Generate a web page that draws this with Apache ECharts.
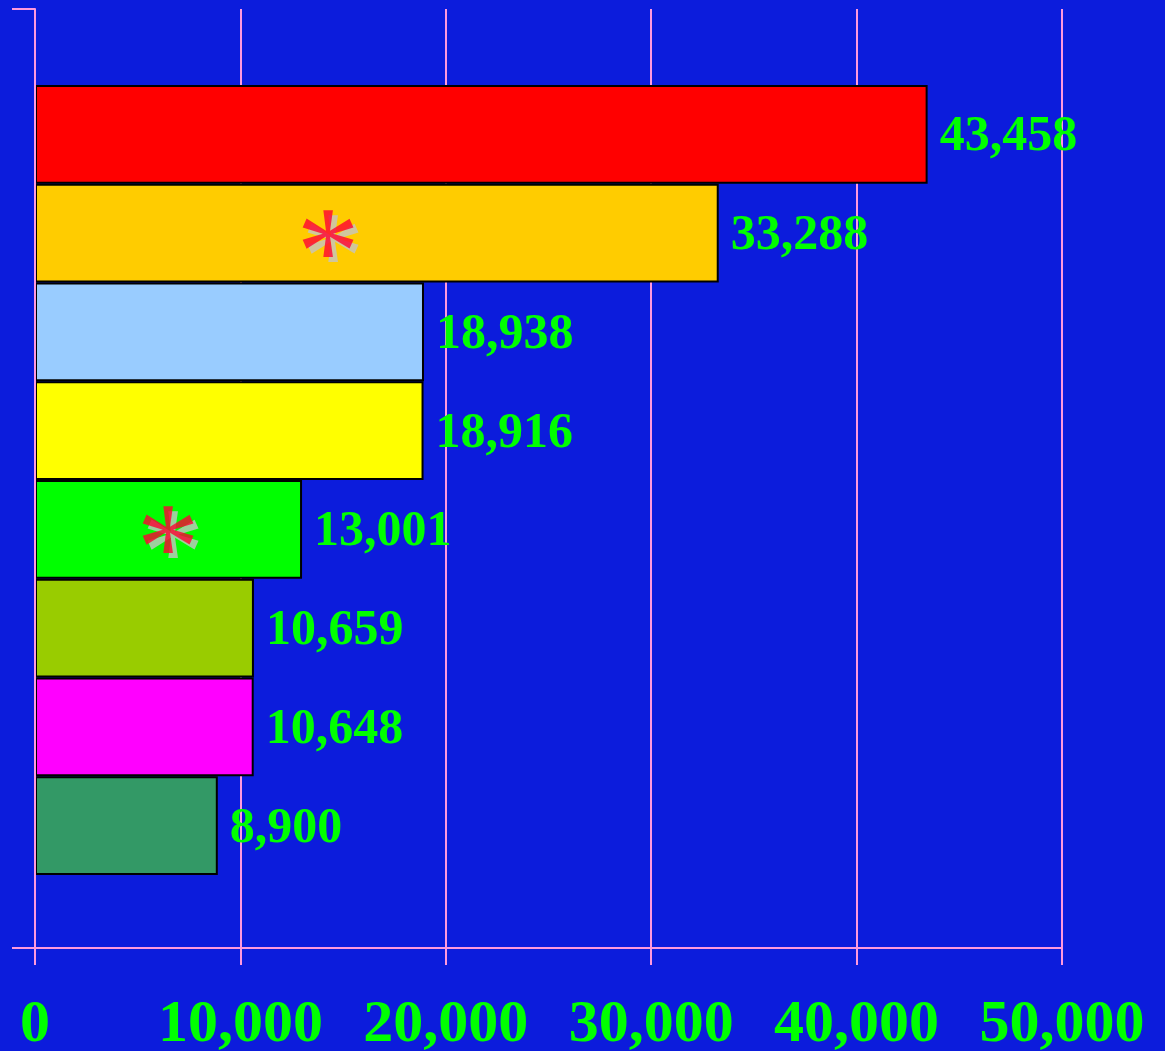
<!DOCTYPE html>
<html>
<head>
<meta charset="utf-8">
<style>
  html, body { margin: 0; padding: 0; background: #0c1cdc; }
  #chart { width: 1165px; height: 1051px; }
</style>
<script src="https://cdn.jsdelivr.net/npm/echarts@6/dist/echarts.min.js"></script>
</head>
<body>
<div id="chart"></div>
<script>
// bars, top to bottom
const categories = ['1', '2', '3', '4', '5', '6', '7', '8'];
const values = [43458, 33288, 18938, 18916, 13001, 10659, 10648, 8900];
const barColors = ['#ff0000', '#ffcc00', '#99ccff', '#ffff00', '#00ff00', '#99cc00', '#ff00ff', '#339966'];

// red asterisks drawn inside two of the bars
const starCategories = ['2', '5'];
const starValues = [14265, 6475];

const xTicks = [0, 10000, 20000, 30000, 40000, 50000];

const PINK = '#ff99dd';
const GREEN = '#00ff00';
const SERIF = '"Liberation Serif", "Times New Roman", serif';

const fmt = v => v.toLocaleString('en-US');

// asterisk = gray copy underneath, red on top
function starSeries(color, dx, dy, z) {
  return {
    type: 'scatter', xAxisIndex: 1, yAxisIndex: 1, symbolSize: 0, z: z, silent: true,
    data: starValues.map((v, i) => [v, starCategories[i]]),
    label: {
      show: true, position: 'inside', formatter: '*', offset: [dx, 28 + dy],
      color: color, fontFamily: SERIF, fontSize: 126,
    },
  };
}

const chart = echarts.init(document.getElementById('chart'), null, { renderer: 'canvas' });

chart.setOption({
  backgroundColor: '#0c1cdc',
  animation: false,
  grid: [
    // frame: axes, gridlines, tick labels
    { left: 35, right: 103, top: 9, bottom: 103, outerBoundsMode: 'none', containLabel: false },
    // bars only
    { left: 35, right: 103, top: 85, bottom: 176, outerBoundsMode: 'none', containLabel: false },
  ],
  xAxis: [
    {
      gridIndex: 0, type: 'value', min: xTicks[0], max: xTicks[xTicks.length - 1], interval: 10000,
      axisLine: { show: true, lineStyle: { color: PINK, width: 2 } },
      axisTick: { show: true, length: 17, lineStyle: { color: PINK, width: 2 } },
      splitLine: { show: true, lineStyle: { color: PINK, width: 2 } },
      axisLabel: { color: GREEN, fontFamily: SERIF, fontWeight: 'bold', fontSize: 60, margin: 47, formatter: fmt },
    },
    { gridIndex: 1, type: 'value', min: xTicks[0], max: xTicks[xTicks.length - 1], show: false },
  ],
  yAxis: [
    {
      gridIndex: 0, type: 'value', min: 0, max: 1, interval: 1, z: 5,
      axisLine: { show: true, lineStyle: { color: PINK, width: 2 } },
      axisTick: { show: true, length: 23, lineStyle: { color: PINK, width: 2 } },
      splitLine: { show: false },
      axisLabel: { show: false },
    },
    { gridIndex: 1, type: 'category', data: categories, inverse: true, show: false },
  ],
  series: [
    {
      type: 'bar', xAxisIndex: 1, yAxisIndex: 1,
      barWidth: '100%', barCategoryGap: 0,
      data: values.map((v, i) => ({ value: v, itemStyle: { color: barColors[i] } })),
      itemStyle: { borderColor: '#000', borderWidth: 2 },
      label: {
        show: true, position: 'right', distance: 12, offset: [0, 3],
        color: GREEN, fontFamily: SERIF, fontWeight: 'bold', fontSize: 50,
        formatter: p => fmt(p.value),
      },
    },
    starSeries('#c4c4c4', 5, 5, 4),
    starSeries('#ff0033', 0, 0, 5),
  ],
});
</script>
</body>
</html>
